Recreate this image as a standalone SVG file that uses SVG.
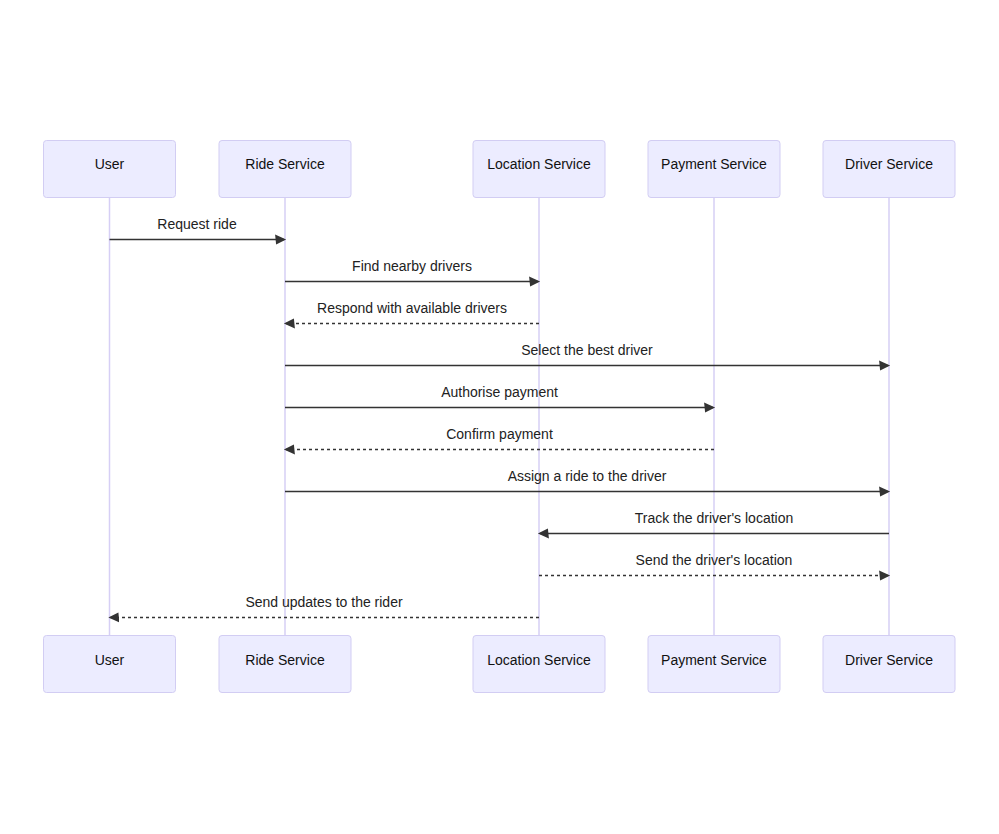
<svg xmlns="http://www.w3.org/2000/svg" width="999" height="834" viewBox="0 0 999 834">
<style>
.actor rect{fill:#ececff;stroke:#d2cdf3;stroke-width:1}
.actor text{font-family:"Liberation Sans",Arial,sans-serif;font-size:14px;fill:#111;text-anchor:middle;dominant-baseline:central}
.life{stroke:#d6cff5;stroke-width:1.5}
.msg{stroke:#333;stroke-width:1.5;fill:none}
.dash{stroke-dasharray:3,3}
.lbl{font-family:"Liberation Sans",Arial,sans-serif;font-size:14px;fill:#222;text-anchor:middle}
</style>
<defs>
<marker id="ah" refX="7.9" refY="5" markerUnits="userSpaceOnUse" markerWidth="12" markerHeight="12" orient="auto" viewBox="-1 0 12 10">
<path d="M -1 0 L 10 5 L 0 10 z" fill="#333"/>
</marker>
</defs>
<rect width="999" height="834" fill="#fff"/>
<g id="lifelines">
<line class="life" x1="109.5" y1="197" x2="109.5" y2="635"/>
<line class="life" x1="285" y1="197" x2="285" y2="635"/>
<line class="life" x1="539" y1="197" x2="539" y2="635"/>
<line class="life" x1="714" y1="197" x2="714" y2="635"/>
<line class="life" x1="889" y1="197" x2="889" y2="635"/>
</g>
<g id="actor-user-top" class="actor"><rect x="43.5" y="140.5" width="132" height="57" rx="3"/><text x="109.5" y="164">User</text></g>
<g id="actor-ride-top" class="actor"><rect x="219" y="140.5" width="132" height="57" rx="3"/><text x="285" y="164">Ride Service</text></g>
<g id="actor-location-top" class="actor"><rect x="473" y="140.5" width="132" height="57" rx="3"/><text x="539" y="164">Location Service</text></g>
<g id="actor-payment-top" class="actor"><rect x="648" y="140.5" width="132" height="57" rx="3"/><text x="714" y="164">Payment Service</text></g>
<g id="actor-driver-top" class="actor"><rect x="823" y="140.5" width="132" height="57" rx="3"/><text x="889" y="164">Driver Service</text></g>
<g id="actor-user-bottom" class="actor"><rect x="43.5" y="635.5" width="132" height="57" rx="3"/><text x="109.5" y="660">User</text></g>
<g id="actor-ride-bottom" class="actor"><rect x="219" y="635.5" width="132" height="57" rx="3"/><text x="285" y="660">Ride Service</text></g>
<g id="actor-location-bottom" class="actor"><rect x="473" y="635.5" width="132" height="57" rx="3"/><text x="539" y="660">Location Service</text></g>
<g id="actor-payment-bottom" class="actor"><rect x="648" y="635.5" width="132" height="57" rx="3"/><text x="714" y="660">Payment Service</text></g>
<g id="actor-driver-bottom" class="actor"><rect x="823" y="635.5" width="132" height="57" rx="3"/><text x="889" y="660">Driver Service</text></g>
<g id="connectors">
<line class="msg" x1="109.5" y1="239.5" x2="284" y2="239.5" marker-end="url(#ah)"/>
<line class="msg" x1="285" y1="281.5" x2="538" y2="281.5" marker-end="url(#ah)"/>
<line class="msg dash" x1="539" y1="323.5" x2="286" y2="323.5" marker-end="url(#ah)"/>
<line class="msg" x1="285" y1="365.5" x2="888" y2="365.5" marker-end="url(#ah)"/>
<line class="msg" x1="285" y1="407.5" x2="713" y2="407.5" marker-end="url(#ah)"/>
<line class="msg dash" x1="714" y1="449.5" x2="286" y2="449.5" marker-end="url(#ah)"/>
<line class="msg" x1="285" y1="491.5" x2="888" y2="491.5" marker-end="url(#ah)"/>
<line class="msg" x1="889" y1="533.5" x2="540" y2="533.5" marker-end="url(#ah)"/>
<line class="msg dash" x1="539" y1="575.5" x2="888" y2="575.5" marker-end="url(#ah)"/>
<line class="msg dash" x1="539" y1="617.5" x2="110.5" y2="617.5" marker-end="url(#ah)"/>
<text class="lbl" x="197" y="229">Request ride</text>
<text class="lbl" x="412" y="271">Find nearby drivers</text>
<text class="lbl" x="412" y="313">Respond with available drivers</text>
<text class="lbl" x="587" y="355">Select the best driver</text>
<text class="lbl" x="499.5" y="397">Authorise payment</text>
<text class="lbl" x="499.5" y="439">Confirm payment</text>
<text class="lbl" x="587" y="481">Assign a ride to the driver</text>
<text class="lbl" x="714" y="523">Track the driver's location</text>
<text class="lbl" x="714" y="565">Send the driver's location</text>
<text class="lbl" x="324" y="607">Send updates to the rider</text>
</g>
</svg>
